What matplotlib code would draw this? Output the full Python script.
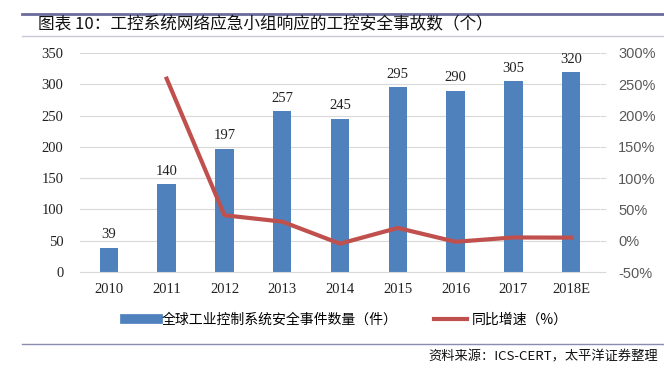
import matplotlib.pyplot as plt
from matplotlib.lines import Line2D

# ---------------- data ---------------- #
years = ['2010', '2011', '2012', '2013', '2014', '2015', '2016', '2017', '2018E']
incidents = [39, 140, 197, 257, 245, 295, 290, 305, 320]
growth = [None, 259, 40.7, 30.5, -4.7, 20.4, -1.7, 5.2, 4.9]  # %

title = '图表 10：工控系统网络应急小组响应的工控安全事故数（个）'
bar_label = '全球工业控制系统安全事件数量（件）'
line_label = '同比增速（%）'
source = '资料来源：ICS-CERT，太平洋证券整理'

cjk = ['Noto Sans CJK SC', 'DejaVu Sans']
serif = ['Liberation Serif', 'DejaVu Serif']

bar_color = '#4f81bd'
line_color = '#c0504d'

fig = plt.figure(figsize=(6.64, 3.68), dpi=100)
W, H = 664, 368

ax = fig.add_axes([80 / W, 1 - 272 / H, 520 / W, (272 - 53) / H])
x = list(range(len(years)))
ax.bar(x, incidents, width=0.32, color=bar_color, zorder=2)
for xi, v in zip(x, incidents):
    ax.text(xi, v + 10, str(v), ha='center', va='bottom', fontsize=10.5,
            family=serif, color='#222222')
ax.set_ylim(0, 350)
ax.set_xlim(-0.5, len(years) - 0.5)
ax.set_yticks(range(0, 351, 50))
ax.set_xticks(x)
ax.set_xticklabels(years)
ax.grid(axis='y', color='#d9d9d9', linewidth=0.8, zorder=0)
ax.set_axisbelow(True)
for s in ['top', 'right', 'left']:
    ax.spines[s].set_visible(False)
ax.spines['bottom'].set_color('#d9d9d9')
ax.tick_params(axis='both', length=0, labelsize=10.5, colors='#222222', pad=8)
for lab in ax.get_xticklabels() + ax.get_yticklabels():
    lab.set_family(serif)
ax.tick_params(axis='y', pad=12)

ax2 = ax.twinx()
gx = [xi for xi, g in zip(x, growth) if g is not None]
gy = [g for g in growth if g is not None]
ax2.plot(gx, gy, color=line_color, linewidth=3, zorder=3)
ax2.set_ylim(-50, 300)
ax2.set_yticks(range(-50, 301, 50))
ax2.set_yticklabels([f'{t}%' for t in range(-50, 301, 50)])
for s in ax2.spines.values():
    s.set_visible(False)
ax2.tick_params(axis='y', length=4, color='#d9d9d9', labelsize=10.5,
                colors='#595959', pad=9)
for lab in ax2.get_yticklabels():
    lab.set_family(['Liberation Sans', 'DejaVu Sans'])
    lab.set_color('#595959')

# legend
handles = [Line2D([0], [0], color=bar_color, linewidth=7),
           Line2D([0], [0], color=line_color, linewidth=3)]
fig.legend(handles, [bar_label, line_label], loc='center',
           bbox_to_anchor=(346 / W, 1 - 320 / H), ncol=2, frameon=False,
           prop={'family': cjk, 'size': 10}, handlelength=2.4,
           columnspacing=2.6, handletextpad=0.3)

# header / footer decorations
fig.add_artist(Line2D([22 / W, 1], [1 - 14 / H] * 2, color='#6b6b9e', linewidth=2))
fig.add_artist(Line2D([22 / W, 1], [1 - 36 / H] * 2, color='#c8c8d8', linewidth=1))
fig.add_artist(Line2D([22 / W, 1], [1 - 344 / H] * 2, color='#8b8bb0', linewidth=1))
fig.text(38 / W, 1 - 25 / H, title, ha='left', va='center', fontsize=12,
         family=cjk, color='#111111')
fig.text(658 / W, 1 - 357 / H, source, ha='right', va='center', fontsize=9.5,
         family=cjk, style='italic', color='#111111')

fig.savefig('out.png', dpi=100)
